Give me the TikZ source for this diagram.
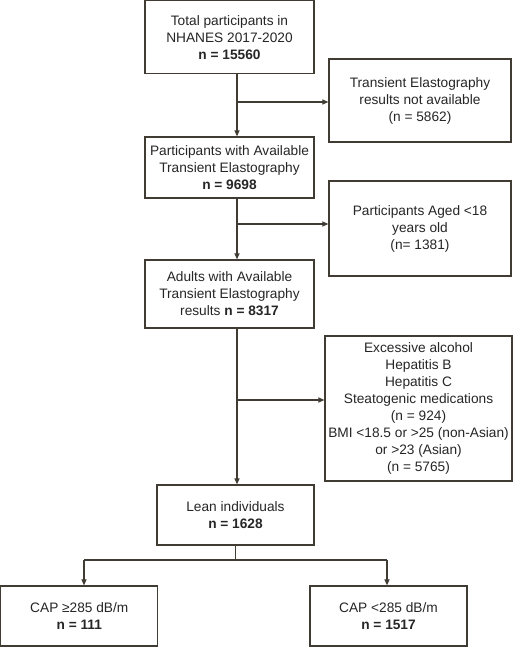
\documentclass[tikz,border=0pt]{standalone}
\usepackage{fontspec}
\setmainfont{Liberation Sans}
\usepackage{tikz}
\usetikzlibrary{positioning,arrows.meta,calc}
\definecolor{fLine}{RGB}{64,60,52}
\tikzset{
  box/.style={rectangle, draw=fLine, line width=1.2pt, fill=white, align=center,
              inner sep=2pt, font=\fontsize{13.7}{17}\selectfont, text=black!85},
  flow/.style={-{Triangle[length=6pt,width=5pt]}, draw=fLine, line width=1.1pt},
  link/.style={draw=fLine, line width=1.1pt},
}
\begin{document}
\begin{tikzpicture}[x=1pt,y=-1pt]
  \useasboundingbox (0,0) rectangle (513,647);

  % --- main column ---
  \node[box, minimum width=169pt, minimum height=73pt] (tot) at (229.5,37.3)
    {Total participants in\\NHANES 2017-2020\\\textbf{n = 15560}};
  \node[box, minimum width=169pt, minimum height=61pt] (avail) at (229.5,167.5)
    {Participants with Available\\Transient Elastography\\\textbf{n = 9698}};
  \node[box, minimum width=169pt, minimum height=68pt] (adult) at (229.5,294)
    {Adults with Available\\Transient Elastography\\results \textbf{n = 8317}};
  \node[box, minimum width=157pt, minimum height=60pt] (lean) at (235.5,515)
    {Lean individuals\\\textbf{n = 1628}};

  % --- exclusions (right column) ---
  \node[box, minimum width=182pt, minimum height=83pt] (noTE) at (420,100.5)
    {Transient Elastography\\results not available\\(n = 5862)};
  \node[box, minimum width=182pt, minimum height=95pt] (age) at (420,228.5)
    {Participants Aged <18\\years old\\(n= 1381)};
  \node[box, minimum width=187pt, minimum height=145pt] (excl) at (418.5,408.5)
    {Excessive alcohol\\Hepatitis B\\Hepatitis C\\Steatogenic medications\\(n = 924)\\
     BMI <18.5 or >25 (non-Asian)\\or >23 (Asian)\\(n = 5765)};

  % --- CAP groups ---
  \node[box, minimum width=157pt, minimum height=60pt] (capH) at (79.3,616)
    {CAP ≥285 dB/m\\\textbf{n = 111}};
  \node[box, minimum width=157pt, minimum height=60pt] (capL) at (388.5,616)
    {CAP <285 dB/m\\\textbf{n = 1517}};

  % --- branch points on the main line ---
  \coordinate (b1) at (237,102);
  \coordinate (b2) at (237,224);
  \coordinate (b3) at (237,400);
  \coordinate (spL) at (84,560);
  \coordinate (spR) at (387,560);

  \draw[flow] (b1 |- tot.south) -- (b1 |- avail.north);
  \draw[flow] (b1) -- (b1 -| noTE.west);
  \draw[flow] (b2 |- avail.south) -- (b2 |- adult.north);
  \draw[flow] (b2) -- (b2 -| age.west);
  \draw[flow] (b3 |- adult.south) -- (b3 |- lean.north);
  \draw[flow] (b3) -- (b3 -| excl.west);

  % --- split into CAP groups ---
  \draw[link] (lean.south) -- (lean.south |- spL);
  \draw[link] (spL) -- (spR);
  \draw[flow] (spL) -- (spL |- capH.north);
  \draw[flow] (spR) -- (spR |- capL.north);
\end{tikzpicture}
\end{document}
